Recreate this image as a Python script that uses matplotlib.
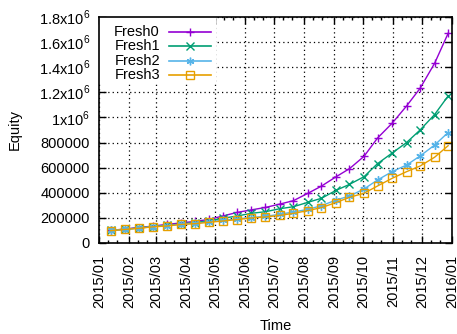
import matplotlib
matplotlib.use('Agg')
import matplotlib.pyplot as plt
import matplotlib.dates as mdates
from matplotlib.patches import Rectangle
import pandas as pd

plt.rcParams['font.family'] = ['Liberation Sans', 'DejaVu Sans']
plt.rcParams['mathtext.fontset'] = 'custom'
plt.rcParams['mathtext.rm'] = 'Liberation Sans'
plt.rcParams['font.size'] = 10.5

# sample dates (one marker each)
dates = ['2015-01-13', '2015-01-28', '2015-02-11', '2015-02-26', '2015-03-12',
         '2015-03-27', '2015-04-10', '2015-04-25', '2015-05-09', '2015-05-24',
         '2015-06-07', '2015-06-22', '2015-07-07', '2015-07-21', '2015-08-05',
         '2015-08-19', '2015-09-03', '2015-09-17', '2015-10-02', '2015-10-16',
         '2015-10-31', '2015-11-15', '2015-11-29', '2015-12-14', '2015-12-28']

fresh0 = [100000, 112000, 123000, 135000, 148000, 160000, 172000, 188000,
          215000, 244000, 263000, 283000, 310000, 337000, 396000, 453000,
          527000, 592000, 690000, 836000, 953000, 1091000, 1232000, 1431000,
          1670000]
fresh1 = [100000, 110000, 120000, 131000, 141000, 152000, 163000, 177000,
          197000, 215000, 236000, 249000, 273000, 289000, 324000, 356000,
          419000, 467000, 528000, 632000, 716000, 800000, 900000, 1023000,
          1171000]
fresh2 = [100000, 109000, 118000, 131000, 137000, 150000, 157000, 169000,
          181000, 192000, 203000, 212000, 229000, 247000, 268000, 297000,
          342000, 374000, 430000, 502000, 568000, 621000, 693000, 780000,
          880000]
fresh3 = [98000, 108000, 117000, 129000, 135000, 148000, 154000, 165000,
          175000, 187000, 199000, 207000, 220000, 236000, 258000, 282000,
          322000, 364000, 396000, 454000, 515000, 568000, 613000, 683000,
          775000]

names = ['Fresh0', 'Fresh1', 'Fresh2', 'Fresh3']
values = [fresh0, fresh1, fresh2, fresh3]
colors = ['#9400d3', '#009e73', '#56b4e9', '#e69f00']
markers = ['+', 'x', (6, 2, 0), 's']

yticks = [0, 200000, 400000, 600000, 800000, 1000000, 1200000, 1400000,
          1600000, 1800000]
ytick_labels = ['0', '200000', '400000', '600000', '800000', '1x10$^{6}$',
                '1.2x10$^{6}$', '1.4x10$^{6}$', '1.6x10$^{6}$', '1.8x10$^{6}$']

x = pd.to_datetime(dates)

fig = plt.figure(figsize=(4.57, 3.34), dpi=100)
ax = fig.add_axes([99 / 457, 1 - 243 / 334, 353 / 457, 226 / 334])

for name, vals, color, mk in zip(names, values, colors, markers):
    ax.plot(x, vals, color=color, lw=1, marker=mk, markersize=6,
            markeredgewidth=1, markerfacecolor='none', label=name, zorder=3)

ax.set_xlim(pd.Timestamp('2015-01-01'), pd.Timestamp('2016-01-01'))
ax.set_ylim(0, 1800000)
ax.set_yticks(yticks)
ax.set_yticklabels(ytick_labels)
ax.xaxis.set_major_locator(mdates.MonthLocator())
ax.xaxis.set_major_formatter(mdates.DateFormatter('%Y/%m'))
ax.xaxis.set_minor_locator(mdates.DayLocator(bymonthday=[10, 20]))
plt.setp(ax.get_xticklabels(), rotation=90, ha='center', va='top')

ax.tick_params(which='both', direction='in', top=True, right=True,
               colors='black')
ax.tick_params(which='major', length=5, width=1)
ax.tick_params(axis='y', pad=6.5)
ax.tick_params(axis='x', pad=8.5)
ax.tick_params(which='minor', length=2.5, width=1)
ax.grid(True, which='major', color='black', linestyle=(0, (1, 2.5)), lw=0.9)
for sp in ax.spines.values():
    sp.set_linewidth(1.2)
    sp.set_zorder(5)

ax.set_xlabel('Time', labelpad=8)
ax.set_ylabel('Equity', labelpad=12)

# gnuplot style key: text right-justified, then the sample
ax.add_patch(Rectangle((0, 0.708), 0.331, 0.292, transform=ax.transAxes,
                       facecolor='white', edgecolor='none', zorder=2))
key_y = [0.932, 0.8695, 0.807, 0.7445]
for name, color, mk, ky in zip(names, colors, markers, key_y):
    ax.text(0.1728, ky, name, transform=ax.transAxes, ha='right',
            va='center', zorder=4)
    ax.plot([0.1983, 0.3173], [ky, ky], transform=ax.transAxes, color=color,
            lw=1.2, zorder=4)
    ax.plot([0.2578], [ky], transform=ax.transAxes, color=color, marker=mk,
            markersize=5.5, markeredgewidth=1, markerfacecolor='none',
            zorder=4)

fig.savefig('out.png', dpi=100)
